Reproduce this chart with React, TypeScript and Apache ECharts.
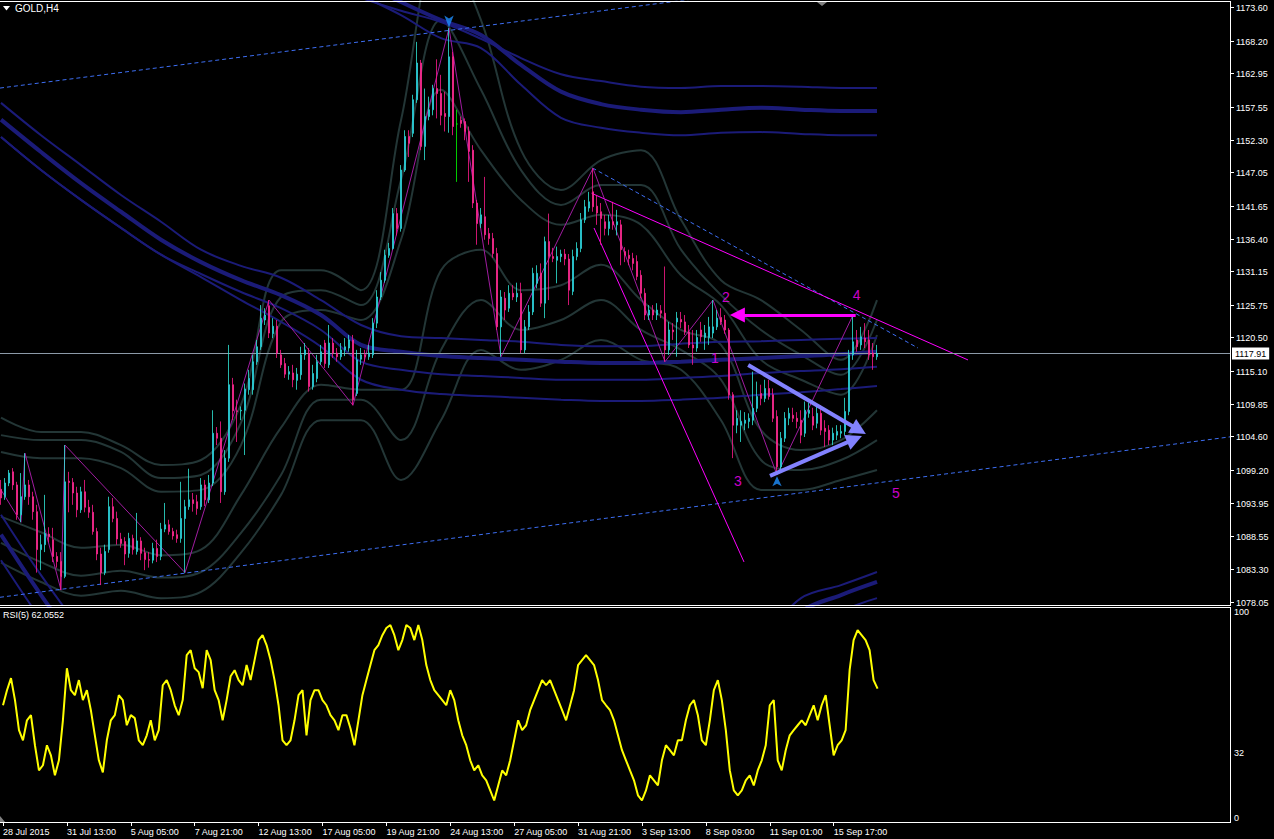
import React, { useEffect, useRef } from 'react';
import * as echarts from 'echarts';

const FONT = "'Liberation Sans', Arial, sans-serif";

// ---- time axis labels (bar index -> label) ----
const timeLabelBars = [0, 16, 32, 48, 64, 80, 96, 112, 128, 144, 160, 176, 192, 208];
const timeLabels = ['28 Jul 2015', '31 Jul 13:00', '5 Aug 05:00', '7 Aug 21:00', '12 Aug 13:00', '17 Aug 05:00', '19 Aug 21:00', '24 Aug 13:00', '27 Aug 05:00', '31 Aug 21:00', '3 Sep 13:00', '8 Sep 09:00', '11 Sep 01:00', '15 Sep 17:00'];

// ---- price scale ticks ----
const priceTicks = [1173.60, 1168.20, 1162.95, 1157.55, 1152.30, 1147.05, 1141.65, 1136.40, 1131.15, 1125.75, 1120.50, 1115.10, 1109.85, 1104.60, 1099.20, 1093.95, 1088.55, 1083.30, 1078.05];
const rsiTicks = [0, 32, 100];

// ---- GOLD H4 candles ----
const opens = [
  1096.1, 1094.9, 1097.1, 1098.9, 1096.8, 1092.0, 1094.9, 1096.8, 1094.9, 1092.5,
  1086.4, 1087.2, 1088.9, 1088.0, 1085.3, 1084.5, 1082.1, 1097.4, 1097.2, 1095.5,
  1092.8, 1095.7, 1093.2, 1092.4, 1089.3, 1085.7, 1082.7, 1086.4, 1093.3, 1091.4,
  1088.1, 1087.7, 1085.8, 1088.2, 1086.1, 1087.8, 1085.9, 1084.8, 1084.7, 1086.6,
  1085.3, 1089.7, 1090.4, 1089.3, 1088.8, 1088.2, 1091.4, 1093.3, 1094.4, 1094.1,
  1093.3, 1096.8, 1094.4, 1097.1, 1105.1, 1104.3, 1095.7, 1101.1, 1112.9, 1108.7,
  1108.7, 1108.8, 1112.1, 1112.1, 1116.6, 1119.0, 1123.3, 1125.6, 1121.1, 1122.3,
  1117.7, 1116.3, 1114.6, 1114.8, 1113.6, 1114.5, 1117.7, 1118.0, 1112.6, 1113.9,
  1116.6, 1119.6, 1116.1, 1119.6, 1118.0, 1117.4, 1118.5, 1118.8, 1120.1, 1111.5,
  1117.0, 1117.7, 1117.4, 1117.7, 1122.8, 1127.0, 1129.7, 1133.7, 1134.8, 1140.4,
  1138.0, 1147.4, 1152.8, 1153.3, 1158.7, 1164.6, 1151.2, 1156.0, 1157.1, 1160.5,
  1159.7, 1156.5, 1156.0, 1165.6, 1154.8, 1155.4, 1155.2, 1153.6, 1150.6, 1142.1,
  1138.8, 1139.9, 1137.2, 1136.4, 1134.0, 1122.2, 1126.8, 1125.2, 1127.6, 1127.0,
  1127.6, 1118.5, 1122.2, 1124.6, 1129.2, 1130.8, 1126.0, 1135.9, 1133.5, 1132.9,
  1133.5, 1133.9, 1133.1, 1127.9, 1133.5, 1134.8, 1139.4, 1141.3, 1143.9, 1141.6,
  1140.7, 1139.1, 1138.0, 1139.1, 1138.6, 1138.6, 1134.3, 1133.7, 1133.2, 1132.7,
  1130.5, 1127.6, 1124.1, 1124.9, 1124.1, 1124.8, 1124.4, 1118.5, 1121.7, 1123.0,
  1123.4, 1123.0, 1121.4, 1119.3, 1118.8, 1121.7, 1120.5, 1120.5, 1121.2, 1122.2,
  1123.7, 1123.3, 1121.7, 1111.3, 1106.4, 1106.4, 1106.7, 1107.0, 1107.2, 1109.1,
  1111.5, 1110.7, 1112.3, 1111.3, 1107.8, 1099.7, 1104.3, 1107.5, 1108.0, 1107.5,
  1107.2, 1105.1, 1108.3, 1107.8, 1106.7, 1108.3, 1105.9, 1105.6, 1104.0, 1104.8,
  1105.1, 1105.4, 1108.6, 1117.7, 1120.1, 1119.3, 1120.4, 1120.1, 1118.0, 1117.4
];
const highs = [
  1097.6, 1097.9, 1099.2, 1099.5, 1097.3, 1098.7, 1101.9, 1097.6, 1095.7, 1093.6,
  1088.8, 1095.2, 1090.0, 1089.9, 1086.0, 1086.0, 1103.2, 1098.9, 1097.9, 1096.5,
  1096.5, 1097.6, 1094.4, 1093.6, 1089.9, 1086.7, 1087.2, 1094.9, 1094.7, 1092.5,
  1089.1, 1088.4, 1089.1, 1088.8, 1092.3, 1088.4, 1086.7, 1086.0, 1087.5, 1088.0,
  1090.7, 1093.9, 1091.2, 1089.9, 1089.6, 1097.3, 1094.4, 1099.4, 1095.5, 1095.2,
  1097.9, 1097.6, 1098.4, 1108.8, 1106.1, 1107.0, 1102.4, 1119.3, 1114.0, 1110.5,
  1109.4, 1113.1, 1115.3, 1117.7, 1120.1, 1125.7, 1125.2, 1126.5, 1123.6, 1123.3,
  1118.5, 1117.2, 1115.9, 1116.1, 1115.6, 1119.0, 1119.6, 1118.8, 1116.1, 1117.7,
  1119.3, 1120.1, 1122.5, 1120.4, 1118.8, 1119.6, 1120.4, 1120.9, 1120.9, 1118.5,
  1118.8, 1118.5, 1119.3, 1123.6, 1128.1, 1131.0, 1134.6, 1135.7, 1141.3, 1141.3,
  1148.2, 1153.8, 1153.8, 1159.5, 1168.0, 1165.1, 1160.5, 1159.2, 1161.1, 1165.2,
  1162.7, 1160.0, 1170.2, 1166.4, 1157.1, 1156.0, 1155.7, 1154.4, 1151.4, 1142.6,
  1141.3, 1146.3, 1138.1, 1137.3, 1134.9, 1128.1, 1127.8, 1128.9, 1128.9, 1129.3,
  1129.3, 1123.3, 1125.7, 1131.7, 1132.1, 1132.4, 1136.7, 1140.4, 1134.9, 1135.1,
  1134.6, 1134.7, 1133.9, 1134.6, 1135.8, 1140.5, 1142.6, 1143.9, 1147.7, 1143.4,
  1142.1, 1140.2, 1140.2, 1142.3, 1141.0, 1139.4, 1135.0, 1134.6, 1134.1, 1133.7,
  1131.3, 1128.4, 1125.7, 1125.7, 1126.0, 1125.7, 1131.9, 1123.0, 1122.8, 1124.6,
  1124.6, 1124.1, 1122.5, 1121.7, 1121.7, 1123.0, 1122.5, 1123.8, 1126.5, 1124.9,
  1125.2, 1124.1, 1122.0, 1111.7, 1108.8, 1108.8, 1108.5, 1108.3, 1115.0, 1113.4,
  1112.9, 1113.7, 1113.7, 1112.3, 1108.8, 1105.3, 1108.5, 1109.2, 1109.2, 1108.5,
  1108.8, 1110.2, 1110.0, 1109.2, 1109.6, 1109.6, 1107.2, 1106.4, 1106.0, 1106.4,
  1106.4, 1110.8, 1118.5, 1124.1, 1121.7, 1122.2, 1122.8, 1121.7, 1119.6, 1119.3
];
const lows = [
  1093.6, 1094.4, 1096.6, 1096.0, 1091.2, 1090.8, 1094.4, 1093.6, 1091.2, 1082.7,
  1083.1, 1086.0, 1087.6, 1084.4, 1083.5, 1079.9, 1081.8, 1092.4, 1093.6, 1091.6,
  1092.3, 1092.4, 1091.5, 1088.8, 1084.7, 1080.7, 1082.3, 1085.9, 1090.8, 1087.2,
  1086.7, 1083.9, 1085.1, 1085.6, 1085.6, 1084.7, 1083.1, 1083.5, 1084.2, 1084.4,
  1084.7, 1089.2, 1088.8, 1088.0, 1087.5, 1087.5, 1082.7, 1092.8, 1092.5, 1092.0,
  1092.8, 1093.4, 1093.9, 1096.6, 1103.2, 1093.9, 1095.2, 1100.5, 1107.2, 1103.7,
  1107.2, 1101.6, 1111.3, 1111.3, 1116.1, 1118.5, 1122.5, 1120.4, 1120.4, 1117.2,
  1115.6, 1114.0, 1113.7, 1112.5, 1112.1, 1113.7, 1116.9, 1111.8, 1112.1, 1113.3,
  1116.1, 1115.6, 1115.6, 1117.2, 1116.6, 1116.9, 1117.5, 1118.2, 1109.6, 1111.1,
  1116.1, 1116.6, 1116.9, 1117.2, 1122.0, 1126.5, 1129.3, 1133.3, 1134.6, 1136.9,
  1137.5, 1147.1, 1149.5, 1152.7, 1158.2, 1150.6, 1149.0, 1155.4, 1156.2, 1155.7,
  1154.6, 1153.6, 1153.4, 1153.0, 1145.5, 1154.2, 1152.2, 1145.5, 1141.3, 1135.4,
  1138.1, 1136.2, 1135.4, 1133.3, 1121.7, 1117.4, 1123.3, 1124.6, 1126.5, 1126.2,
  1118.0, 1118.0, 1121.7, 1124.1, 1128.4, 1125.4, 1123.6, 1126.5, 1132.6, 1129.2,
  1132.6, 1132.1, 1125.7, 1127.3, 1132.9, 1134.2, 1138.9, 1140.7, 1140.7, 1138.6,
  1135.4, 1136.9, 1136.9, 1137.8, 1136.9, 1132.1, 1132.6, 1132.1, 1131.3, 1129.7,
  1126.8, 1123.3, 1123.3, 1123.3, 1123.3, 1123.6, 1116.6, 1117.7, 1120.1, 1117.4,
  1122.0, 1120.9, 1118.8, 1116.1, 1118.2, 1119.8, 1118.5, 1119.3, 1120.4, 1121.7,
  1122.5, 1121.1, 1110.5, 1101.1, 1105.1, 1103.7, 1105.6, 1105.9, 1106.4, 1108.5,
  1109.6, 1110.1, 1110.5, 1106.9, 1098.4, 1099.2, 1103.7, 1106.4, 1106.9, 1105.9,
  1103.5, 1104.5, 1107.6, 1105.6, 1105.9, 1104.8, 1102.9, 1103.2, 1103.2, 1104.0,
  1104.3, 1104.8, 1108.0, 1116.9, 1118.2, 1118.5, 1118.8, 1116.9, 1115.3, 1116.9
];
const closes = [
  1094.7, 1097.1, 1098.7, 1096.8, 1092.0, 1094.9, 1096.8, 1094.9, 1092.5, 1086.4,
  1087.2, 1089.0, 1088.5, 1085.3, 1084.5, 1082.1, 1097.3, 1097.2, 1095.5, 1092.8,
  1095.7, 1093.2, 1092.4, 1089.3, 1085.7, 1082.7, 1086.1, 1093.3, 1091.4, 1088.1,
  1087.4, 1085.7, 1088.2, 1086.4, 1087.8, 1085.8, 1084.8, 1084.7, 1086.6, 1085.3,
  1089.7, 1090.4, 1089.3, 1088.6, 1088.2, 1091.4, 1093.3, 1094.4, 1093.8, 1093.0,
  1096.8, 1094.4, 1097.1, 1105.1, 1104.3, 1095.7, 1101.1, 1112.9, 1108.7, 1108.6,
  1108.8, 1112.2, 1113.9, 1116.6, 1119.0, 1123.6, 1124.1, 1121.2, 1122.3, 1118.0,
  1116.1, 1114.6, 1115.0, 1113.7, 1114.6, 1117.7, 1118.5, 1112.6, 1114.7, 1116.6,
  1118.2, 1116.3, 1119.6, 1118.0, 1117.4, 1118.5, 1119.0, 1120.1, 1110.5, 1116.9,
  1117.7, 1117.4, 1118.0, 1122.8, 1127.0, 1129.7, 1133.7, 1134.8, 1140.4, 1138.0,
  1147.4, 1152.8, 1151.7, 1158.7, 1164.6, 1151.2, 1156.0, 1157.1, 1160.5, 1159.7,
  1156.2, 1156.0, 1165.6, 1154.4, 1154.8, 1154.9, 1153.6, 1150.4, 1142.1, 1138.8,
  1140.2, 1137.0, 1136.4, 1134.0, 1122.2, 1127.0, 1124.9, 1127.6, 1127.0, 1127.6,
  1118.5, 1122.2, 1124.6, 1130.8, 1130.8, 1126.0, 1135.9, 1133.5, 1133.2, 1133.5,
  1133.9, 1133.1, 1128.1, 1133.5, 1134.8, 1139.4, 1141.5, 1142.3, 1141.5, 1140.5,
  1139.6, 1138.0, 1139.1, 1138.6, 1139.1, 1134.6, 1133.7, 1133.2, 1132.4, 1130.3,
  1127.6, 1124.1, 1124.9, 1124.1, 1124.9, 1124.4, 1118.5, 1121.7, 1121.4, 1123.6,
  1123.0, 1121.4, 1119.3, 1118.8, 1120.5, 1120.6, 1121.2, 1122.2, 1122.2, 1123.6,
  1123.0, 1121.7, 1111.3, 1106.4, 1107.5, 1107.0, 1107.2, 1107.5, 1109.1, 1111.0,
  1110.7, 1112.3, 1111.0, 1107.5, 1099.7, 1104.3, 1107.5, 1108.3, 1107.5, 1107.0,
  1104.8, 1108.8, 1108.8, 1106.4, 1108.3, 1105.6, 1105.4, 1104.0, 1105.1, 1105.4,
  1105.4, 1108.6, 1117.7, 1119.8, 1119.0, 1120.6, 1119.8, 1117.7, 1117.4, 1117.91
];

// ---- RSI(5) ----
const rsi5 = [
  54.3, 61.3, 66.9, 56.7, 42.7, 38.0, 47.3, 49.7, 35.7, 24.0,
  26.4, 35.7, 31.0, 21.7, 28.7, 47.3, 71.5, 61.3, 59.0, 66.0,
  56.7, 61.3, 52.0, 40.3, 28.7, 23.1, 38.0, 47.3, 49.7, 59.0,
  56.7, 45.0, 49.7, 48.3, 38.0, 35.7, 40.3, 47.3, 38.0, 42.7,
  63.6, 66.0, 61.3, 54.3, 49.7, 56.7, 77.6, 79.9, 71.5, 69.7,
  62.2, 79.9, 75.3, 61.3, 56.7, 47.3, 56.7, 67.8, 70.6, 66.0,
  63.6, 73.0, 66.0, 75.3, 84.6, 86.9, 82.3, 75.3, 66.0, 54.3,
  38.0, 35.7, 38.0, 47.3, 59.0, 61.3, 40.3, 56.7, 61.3, 61.3,
  56.7, 54.3, 49.7, 47.3, 42.7, 49.7, 49.7, 43.6, 35.7, 47.3,
  59.0, 66.0, 73.0, 79.9, 82.3, 86.9, 90.2, 91.6, 86.9, 79.9,
  84.6, 91.6, 90.2, 84.6, 91.6, 84.6, 73.0, 66.0, 61.3, 59.0,
  56.7, 54.3, 61.3, 56.7, 47.3, 40.3, 35.7, 28.7, 24.0, 26.4,
  21.7, 19.4, 14.7, 10.0, 17.0, 24.0, 21.7, 28.7, 38.0, 47.3,
  42.7, 45.0, 52.0, 56.7, 61.3, 66.0, 63.6, 66.0, 61.3, 56.7,
  52.0, 47.3, 54.3, 61.3, 73.0, 75.3, 77.6, 75.3, 73.0, 66.0,
  56.7, 54.3, 52.0, 47.3, 40.3, 33.4, 28.7, 24.0, 19.4, 12.4,
  10.0, 14.7, 21.7, 19.4, 17.0, 28.7, 35.7, 33.4, 31.0, 38.0,
  38.0, 47.3, 54.3, 56.7, 49.7, 38.0, 35.7, 47.3, 61.3, 66.0,
  56.7, 42.7, 24.0, 14.7, 12.4, 14.7, 19.4, 21.7, 17.0, 24.0,
  28.7, 35.7, 54.3, 56.7, 28.7, 24.0, 33.4, 40.3, 42.7, 45.0,
  47.3, 45.0, 49.7, 54.3, 47.3, 54.3, 59.0, 45.0, 31.0, 35.7,
  38.0, 42.7, 70.6, 84.6, 89.2, 86.9, 84.6, 79.9, 66.0, 62.06
];

// ---- indicator curves, sampled every 10 bars ----
const bandBars = [0, 10, 20, 30, 40, 50, 60, 70, 80, 90, 100, 110, 120, 130, 140, 150, 160, 170, 180, 190, 200, 210, 219];
const grayUpper3 = [1107.6, 1105.3, 1105.3, 1103.2, 1100.0, 1100.8, 1109.7, 1131.3, 1131.3, 1128.1, 1155.4, 1184.4, 1171.5, 1150.6, 1144.2, 1149.0, 1150.6, 1139.4, 1129.7, 1126.5, 1121.7, 1116.9, 1126.5];
const grayUpper2 = [1104.8, 1104.0, 1104.0, 1102.1, 1097.9, 1098.4, 1106.8, 1127.0, 1128.1, 1125.7, 1145.8, 1171.5, 1160.3, 1147.4, 1141.8, 1145.0, 1145.0, 1134.6, 1127.3, 1121.7, 1117.7, 1114.5, 1123.3];
const grayUpper1 = [1102.1, 1101.1, 1101.1, 1099.5, 1095.7, 1096.0, 1103.2, 1123.0, 1124.9, 1123.3, 1136.2, 1160.3, 1150.6, 1142.6, 1138.6, 1140.2, 1138.6, 1130.5, 1125.7, 1116.9, 1113.7, 1111.3, 1120.9];
const grayLower1 = [1091.7, 1089.2, 1086.7, 1087.2, 1085.5, 1086.4, 1095.2, 1106.0, 1112.9, 1112.1, 1112.1, 1131.3, 1134.6, 1128.1, 1128.9, 1132.2, 1126.5, 1121.7, 1119.3, 1105.6, 1102.4, 1104.0, 1108.8];
const grayLower2 = [1087.5, 1084.4, 1082.2, 1083.0, 1081.9, 1082.8, 1089.1, 1098.4, 1110.5, 1110.5, 1104.0, 1118.5, 1126.5, 1121.7, 1123.3, 1126.5, 1121.7, 1118.5, 1113.7, 1100.8, 1099.2, 1100.8, 1104.0];
const grayLower3 = [1084.3, 1081.2, 1079.0, 1079.8, 1078.6, 1079.6, 1085.9, 1095.2, 1107.2, 1107.2, 1097.6, 1107.2, 1118.5, 1115.3, 1116.9, 1120.1, 1116.9, 1115.3, 1107.2, 1096.0, 1096.0, 1097.6, 1099.2];

const navyUpperA = [1198.8, 1196.4, 1194.0, 1191.6, 1189.2, 1186.8, 1184.4, 1182.0, 1177.9, 1175.1, 1173.0, 1171.2, 1168.5, 1165.4, 1162.8, 1161.7, 1160.8, 1160.6, 1160.9, 1160.9, 1160.8, 1160.6, 1160.6];
const navyUpperB = [1200.4, 1198.0, 1195.6, 1193.2, 1190.8, 1188.4, 1186.0, 1183.6, 1181.2, 1177.6, 1174.4, 1171.5, 1169.1, 1164.3, 1160.0, 1158.0, 1157.1, 1156.7, 1157.1, 1157.4, 1157.1, 1156.9, 1156.9];
const navyUpperC = [1197.2, 1194.8, 1192.4, 1190.0, 1187.6, 1185.2, 1182.8, 1180.4, 1178.8, 1175.5, 1172.3, 1168.6, 1167.0, 1161.1, 1155.8, 1154.2, 1153.4, 1153.0, 1153.4, 1153.5, 1153.2, 1153.0, 1153.0];
const navyMidA = [1158.2, 1153.0, 1148.2, 1143.4, 1139.1, 1134.6, 1132.0, 1130.1, 1126.5, 1122.5, 1120.7, 1120.4, 1120.1, 1119.8, 1119.3, 1119.1, 1119.1, 1119.5, 1119.8, 1119.9, 1120.1, 1120.3, 1120.4];
const navyMidB = [1155.5, 1150.3, 1145.3, 1140.7, 1136.2, 1132.6, 1129.7, 1127.3, 1124.1, 1119.3, 1118.2, 1117.5, 1117.2, 1116.9, 1116.6, 1116.4, 1116.4, 1116.6, 1116.9, 1117.2, 1117.5, 1117.8, 1118.2];
const navyMidC = [1152.7, 1147.4, 1142.6, 1138.1, 1133.8, 1130.7, 1127.8, 1125.2, 1121.7, 1116.6, 1115.3, 1114.6, 1114.3, 1114.0, 1113.7, 1113.7, 1113.7, 1114.0, 1114.3, 1114.8, 1115.1, 1115.4, 1115.8];
const navyMidD = [1152.7, 1147.4, 1142.6, 1138.1, 1133.8, 1130.2, 1126.5, 1123.0, 1119.0, 1113.7, 1112.1, 1111.4, 1111.1, 1110.8, 1110.5, 1110.3, 1110.3, 1110.5, 1110.8, 1111.3, 1111.7, 1112.2, 1112.7];
const navyLowA = [1092.0, 1082.3, 1073.5, 1065.5, 1059.0, 1054.2, 1051.0, 1049.4, 1048.6, 1048.6, 1049.4, 1050.2, 1051.0, 1051.8, 1053.4, 1055.0, 1057.4, 1060.6, 1065.5, 1071.9, 1078.6, 1080.7, 1082.8];
const navyLowB = [1088.8, 1079.1, 1070.3, 1062.2, 1055.8, 1051.0, 1047.8, 1046.2, 1045.4, 1045.4, 1046.2, 1047.0, 1047.8, 1048.6, 1050.2, 1051.8, 1054.2, 1057.4, 1062.2, 1068.7, 1076.4, 1079.1, 1081.2];
const navyLowC = [1084.7, 1075.1, 1066.3, 1058.2, 1051.8, 1047.0, 1043.8, 1042.2, 1041.4, 1041.4, 1042.2, 1043.0, 1043.8, 1044.6, 1046.2, 1047.8, 1050.2, 1053.4, 1058.2, 1063.9, 1071.9, 1076.4, 1078.6];

// ---- zigzag swing points ----
const zigzagBars = [0, 5, 6, 15, 16, 46, 67, 88, 112, 125, 148, 166, 178, 194, 213];
const zigzagPrices = [1096.0, 1090.8, 1101.9, 1079.9, 1103.2, 1082.7, 1126.5, 1109.6, 1170.2, 1117.4, 1147.7, 1116.6, 1126.5, 1098.4, 1124.1];

// ---- drawn objects (bar index, price) ----
const channelTop = [[-0.25, 1160.58], [200, 1177.11]];
const channelBottom = [[-0.25, 1078.74], [307.25, 1104.52]];
const peakDashed = [[147.9, 1147.73], [229.25, 1118.80]];
const magentaTrend = [[147.65, 1143.67], [241.75, 1116.88]];
const magentaSteep = [[148.25, 1138.09], [185.75, 1084.42]];
const magentaArrow = [[213.67, 1124.11], [184.1, 1124.11]];
const violetArrowA = [[186.8, 1116.07], [214.5, 1105.63]];
const violetArrowB = [[192.25, 1098.24], [213.4, 1104.15]];
const waveLabels = ['1', '2', '3', '4', '5'];
const waveBars = [178.5, 181.25, 184.2, 213.9, 223.7];
const wavePrices = [1117.15, 1127.05, 1097.43, 1127.32, 1095.46];
const lastPrice = 1117.91;
const rsiLast = '62.0552';

const X_MIN = -0.25;
const X_MAX = 307.25;

function pts(xs: number[], ys: number[]) {
  return xs.map((x, i) => [x, ys[i]]);
}

export default function App() {
  const ref = useRef<HTMLDivElement>(null);
  useEffect(() => {
    const chart = echarts.init(ref.current!, null, { renderer: 'svg' });
    const labelMap: Record<number, string> = {};
    timeLabelBars.forEach((b, i) => { labelMap[b] = timeLabels[i]; });

    const candleData = opens.map((o, i) => [i, o, closes[i], lows[i], highs[i]]);

    const curve = (name: string, ys: number[], color: string, width: number, z: number) => ({
      type: 'line', name, xAxisIndex: 0, yAxisIndex: 0, data: pts(bandBars, ys),
      smooth: 0.35, showSymbol: false, symbol: 'none', silent: true, z,
      lineStyle: { color, width },
    });
    const straight = (data: number[][], color: string, width: number, dashed: boolean, z: number) => ({
      type: 'line', xAxisIndex: 0, yAxisIndex: 0, data, showSymbol: false, symbol: 'none', silent: true, z,
      lineStyle: { color, width, type: dashed ? [4, 3] : 'solid' },
    });
    const arrow = (coords: number[][], color: string, width: number, size: number[]) => ({
      type: 'lines', coordinateSystem: 'cartesian2d', xAxisIndex: 0, yAxisIndex: 0, silent: true, z: 8,
      symbol: ['none', 'triangle'], symbolSize: size,
      lineStyle: { color, width, opacity: 1, curveness: 0 },
      itemStyle: { color },
      data: [{ coords }],
    });

    const GRAY = '#233636';
    const NAVY = '#1b1b78';
    const W = '#ffffff';

    const baseGraphic: any[] = [
      // pane frames (top, right, bottom of each pane)
      { type: 'line', shape: { x1: 0, y1: 1.5, x2: 1230.5, y2: 1.5 }, style: { stroke: W, lineWidth: 1 }, z: 90, silent: true },
      { type: 'line', shape: { x1: 1230.5, y1: 1, x2: 1230.5, y2: 606 }, style: { stroke: W, lineWidth: 1 }, z: 90, silent: true },
      { type: 'line', shape: { x1: 0, y1: 605.5, x2: 1230.5, y2: 605.5 }, style: { stroke: W, lineWidth: 1 }, z: 90, silent: true },
      { type: 'line', shape: { x1: 0, y1: 607.5, x2: 1230.5, y2: 607.5 }, style: { stroke: W, lineWidth: 1 }, z: 90, silent: true },
      { type: 'line', shape: { x1: 1230.5, y1: 607, x2: 1230.5, y2: 823 }, style: { stroke: W, lineWidth: 1 }, z: 90, silent: true },
      { type: 'line', shape: { x1: 0, y1: 822.5, x2: 1230.5, y2: 822.5 }, style: { stroke: W, lineWidth: 1 }, z: 90, silent: true },
      { type: 'polygon', shape: { points: [[3, 6], [10, 6], [6.5, 10.5]] }, style: { fill: W }, z: 100 },
      { type: 'text', left: 15, top: 3, style: { text: 'GOLD,H4', fill: W, fontSize: 10, fontFamily: FONT }, z: 100 },
      { type: 'text', left: 3, top: 610, style: { text: 'RSI(5) ' + rsiLast, fill: W, fontSize: 9, fontFamily: FONT }, z: 100 },
      { type: 'polygon', shape: { points: [[817, 2], [827, 2], [822, 6]] }, style: { fill: '#808080' }, z: 100 },
      { type: 'polygon', shape: { points: [[0, 816], [0, 822], [5, 822]] }, style: { fill: '#808080' }, z: 100 },
    ];

    const option: any = {
      animation: false,
      backgroundColor: '#000000',
      grid: [
        { left: 0, right: 44, top: 1, height: 604, show: false },
        { left: 0, right: 44, top: 607, height: 215, show: false },
      ],
      xAxis: [
        { type: 'value', gridIndex: 0, min: X_MIN, max: X_MAX, axisLine: { show: false, onZero: false }, axisTick: { show: false }, axisLabel: { show: false }, splitLine: { show: false } },
        {
          type: 'value', gridIndex: 1, min: X_MIN, max: X_MAX, axisLine: { show: false, onZero: false }, splitLine: { show: false },
          axisTick: { show: true, length: 4, lineStyle: { color: W }, customValues: timeLabelBars },
          axisLabel: {
            show: true, customValues: timeLabelBars, color: W, fontSize: 9, fontFamily: FONT,
            align: 'left', margin: 5, hideOverlap: false, formatter: (v: number) => labelMap[Math.round(v)] || '',
          },
        },
      ],
      yAxis: [
        {
          type: 'value', gridIndex: 0, position: 'right', min: 1077.50, max: 1174.57, splitLine: { show: false },
          axisLine: { show: false, onZero: false },
          axisTick: { show: false },
          axisLabel: { show: false },
        },
        {
          type: 'value', gridIndex: 1, position: 'right', min: 0, max: 100, splitLine: { show: false },
          axisLine: { show: false, onZero: false }, axisTick: { show: false },
          axisLabel: {
            customValues: rsiTicks, color: W, fontSize: 9, fontFamily: FONT, margin: 4,
            verticalAlignMinLabel: 'bottom', verticalAlignMaxLabel: 'top', formatter: (v: number) => String(v),
          },
        },
      ],
      series: [
        curve('bbU3', grayUpper3, GRAY, 2, 1),
        curve('bbU2', grayUpper2, GRAY, 2, 1),
        curve('bbU1', grayUpper1, GRAY, 2, 1),
        curve('bbL1', grayLower1, GRAY, 2, 1),
        curve('bbL2', grayLower2, GRAY, 2, 1),
        curve('bbL3', grayLower3, GRAY, 2, 1),
        curve('envUA', navyUpperA, NAVY, 2, 2),
        curve('envUB', navyUpperB, NAVY, 4, 2),
        curve('envUC', navyUpperC, NAVY, 2, 2),
        curve('maA', navyMidA, NAVY, 2, 2),
        curve('maB', navyMidB, NAVY, 4, 2),
        curve('maC', navyMidC, NAVY, 2, 2),
        curve('maD', navyMidD, NAVY, 2, 2),
        curve('envLA', navyLowA, NAVY, 2, 2),
        curve('envLB', navyLowB, NAVY, 4, 2),
        curve('envLC', navyLowC, NAVY, 2, 2),
        straight(channelTop, '#3d6ef2', 1, true, 3),
        straight(channelBottom, '#3d6ef2', 1, true, 3),
        straight(peakDashed, '#3d6ef2', 1, true, 3),
        straight(magentaTrend, '#ff00ff', 1, false, 3),
        straight(magentaSteep, '#ff00ff', 1, false, 3),
        {
          type: 'line', xAxisIndex: 0, yAxisIndex: 0, data: pts(zigzagBars, zigzagPrices), showSymbol: false, symbol: 'none',
          silent: true, z: 4, lineStyle: { color: '#a01ca0', width: 1 },
        },
        {
          type: 'candlestick', name: 'GOLD,H4', xAxisIndex: 0, yAxisIndex: 0, data: candleData, barWidth: 2.4, z: 6, silent: true,
          itemStyle: {
            color: '#1432ff', color0: '#ffa6c9', borderColor: '#30e8d8', borderColor0: '#ff1a8c',
            borderColorDoji: '#00ff00', borderWidth: 0.8,
          },
          markLine: {
            silent: true, symbol: ['none', 'none'], animation: false,
            lineStyle: { color: '#8c9aa8', width: 1, type: 'solid' },
            label: {
              show: true, position: 'end', distance: 2, formatter: (p: any) => Number(p.value).toFixed(2),
              backgroundColor: W, color: '#000000', fontSize: 9, fontFamily: FONT, padding: [2, 3, 1, 3],
            },
            data: [{ yAxis: lastPrice }],
          },
        },
        arrow(magentaArrow, '#ff00ff', 3, [10, 15]),
        arrow(violetArrowA, '#8282ff', 4, [12, 16]),
        arrow(violetArrowB, '#8282ff', 4, [12, 16]),
        {
          type: 'scatter', xAxisIndex: 0, yAxisIndex: 0, silent: true, z: 9, symbol: 'arrow',
          itemStyle: { color: '#1e90ff' },
          data: [
            { value: [112, 1170.3], symbolRotate: 180, symbolSize: [7, 12] },
            { value: [194, 1098.2], symbolRotate: 0, symbolSize: [7, 10] },
          ],
        },
        {
          type: 'scatter', xAxisIndex: 0, yAxisIndex: 0, silent: true, z: 9, symbolSize: 1,
          itemStyle: { color: 'transparent' },
          label: { show: true, position: 'inside', formatter: (p: any) => p.data[2], color: '#ff00ff', fontSize: 14, fontFamily: FONT },
          data: waveBars.map((b, i) => [b, wavePrices[i], waveLabels[i]]),
        },
        {
          type: 'line', name: 'RSI(5)', xAxisIndex: 1, yAxisIndex: 1, data: pts(rsi5.map((_, i) => i), rsi5),
          showSymbol: false, symbol: 'none', silent: true, z: 5, lineStyle: { color: '#ffff00', width: 2 },
        },
      ],
      graphic: baseGraphic,
    };
    chart.setOption(option);

    // price scale: tick marks and labels positioned through the price axis
    const scale: any[] = [];
    priceTicks.forEach((v) => {
      const y = Math.round(chart.convertToPixel({ yAxisIndex: 0 }, v) as number) + 0.5;
      scale.push({ type: 'line', shape: { x1: 1231, y1: y, x2: 1234, y2: y }, style: { stroke: W, lineWidth: 1 }, z: 100, silent: true });
      scale.push({ type: 'text', x: 1236, y, style: { text: v.toFixed(2), fill: W, fontSize: 9, fontFamily: FONT, verticalAlign: 'middle', align: 'left' }, z: 100, silent: true });
    });
    chart.setOption({ graphic: [...baseGraphic, ...scale] });
    return () => chart.dispose();
  }, []);
  return <div ref={ref} style={{ position: 'absolute', left: 0, top: 0, width: 1274, height: 839, background: '#000' }} />;
}
